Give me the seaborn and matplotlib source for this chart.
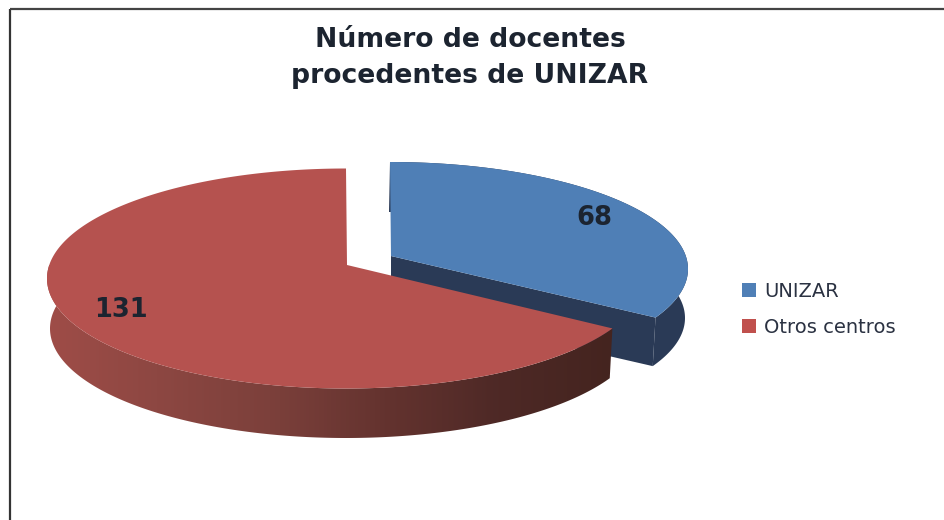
import numpy as np
import matplotlib
matplotlib.use("Agg")
import matplotlib.pyplot as plt
from matplotlib.patches import Polygon
from matplotlib.colors import LinearSegmentedColormap
import seaborn as sns

categories = ["UNIZAR", "Otros centros"]
values = [68, 131]
title_lines = ["Número de docentes", "procedentes de UNIZAR"]

sns.set_theme(style="white")
plt.rcParams['font.family'] = ['DejaVu Sans']

BLUE, RED = "#4f7fb6", "#b5524f"
INK = "#1c2430"

fig = plt.figure(figsize=(9.44, 5.2), dpi=100, facecolor="white")
ax = fig.add_axes([0, 0, 1, 1])
ax.set_xlim(0, 944)
ax.set_ylim(520, 0)
ax.axis("off")

frac = np.array(values) / sum(values)
sweep = frac * 2 * np.pi


def rim(theta, k=0.125):
    """Point on the unit rim hit by a ray from the perspective apex."""
    dx, dy = np.sin(theta), -np.cos(theta)
    b = -k * dy
    t = -b + np.sqrt(b * b - (k * k - 1))
    return t * dx, -k + t * dy


def project(theta, cx, cy, rx, ry):
    u, v = rim(theta)
    return cx + rx * u, cy + ry * v


DEPTH = 50
# UNIZAR: clockwise from 12 o'clock; exploded to the right
tb = np.linspace(0, sweep[0], 240)
bx, by = project(tb, 390, 269, 298, 107)
bx2, by2 = project(tb, 389, 269 + DEPTH - 1, 296, 106)
apex_b = (391, 256)
apex_b2 = (391, 256 + DEPTH)
dark_blue = "#2a3a56"
ax.add_patch(Polygon(list(zip(bx, by)) + list(zip(bx2, by2))[::-1], fc=dark_blue, ec="none", zorder=2))
ax.add_patch(Polygon([apex_b, (bx[-1], by[-1]), (bx2[-1], by2[-1]), apex_b2], fc=dark_blue, ec="none", zorder=2))
ax.add_patch(Polygon([apex_b] + list(zip(bx, by)), fc=BLUE, ec="none", zorder=3))

# Otros centros: the rest of the way round, from the UNIZAR end
tr = np.linspace(sweep[0], 2 * np.pi, 480)
rx_, ry_ = project(tr, 346, 278.5, 299, 110)
rx2, ry2 = project(tr, 346, 278.5 + DEPTH, 296, 109.5)
front = tr <= 1.5 * np.pi + 0.1
wall_poly = Polygon(list(zip(rx_[front], ry_[front])) + list(zip(rx2[front], ry2[front]))[::-1],
                    fc="none", ec="none", transform=ax.transData)
ax.add_patch(wall_poly)
wall_cmap = LinearSegmentedColormap.from_list(
    "wall", sns.blend_palette(["#a04d48", "#8d4742", "#7c403b", "#64332f", "#4e2926", "#44241f"], 64))
img = ax.imshow(np.linspace(0, 1, 256)[None, :], cmap=wall_cmap, extent=(40, 615, 445, 265),
                aspect="auto", zorder=4, interpolation="bilinear")
img.set_clip_path(wall_poly)
ax.set_xlim(0, 944)
ax.set_ylim(520, 0)
ax.add_patch(Polygon([(347, 265)] + list(zip(rx_, ry_)), fc=RED, ec="none", zorder=5))

# Data labels
ax.text(594, 218, str(values[0]), ha="center", va="center", fontsize=18.5, fontweight="bold", color=INK, zorder=6)
ax.text(121, 310, str(values[1]), ha="center", va="center", fontsize=18.5, fontweight="bold", color=INK, zorder=6)

# Title
ax.text(470, 40, title_lines[0], ha="center", va="center", fontsize=19.2, fontweight="bold", color=INK)
ax.text(470, 76, title_lines[1], ha="center", va="center", fontsize=19.2, fontweight="bold", color=INK)

# Legend
handles = [plt.Rectangle((0, 0), 1, 1, fc=BLUE, ec="none"), plt.Rectangle((0, 0), 1, 1, fc="#c0504d", ec="none")]
leg = ax.legend(handles, categories, loc="upper left", bbox_to_anchor=(742 / 944, 1 - 282 / 520),
                frameon=False, fontsize=14, handlelength=0.72, handleheight=0.72, handletextpad=0.42,
                labelspacing=0.87, borderpad=0, borderaxespad=0)
for t in leg.get_texts():
    t.set_color("#2b3242")

# Slide frame
ax.plot([10, 10], [520, 9], color="#333333", lw=1.6, zorder=1, solid_capstyle="butt")
ax.plot([10, 944], [9, 9], color="#444444", lw=1.6, zorder=1, solid_capstyle="butt")

fig.savefig("out.png", dpi=100)
